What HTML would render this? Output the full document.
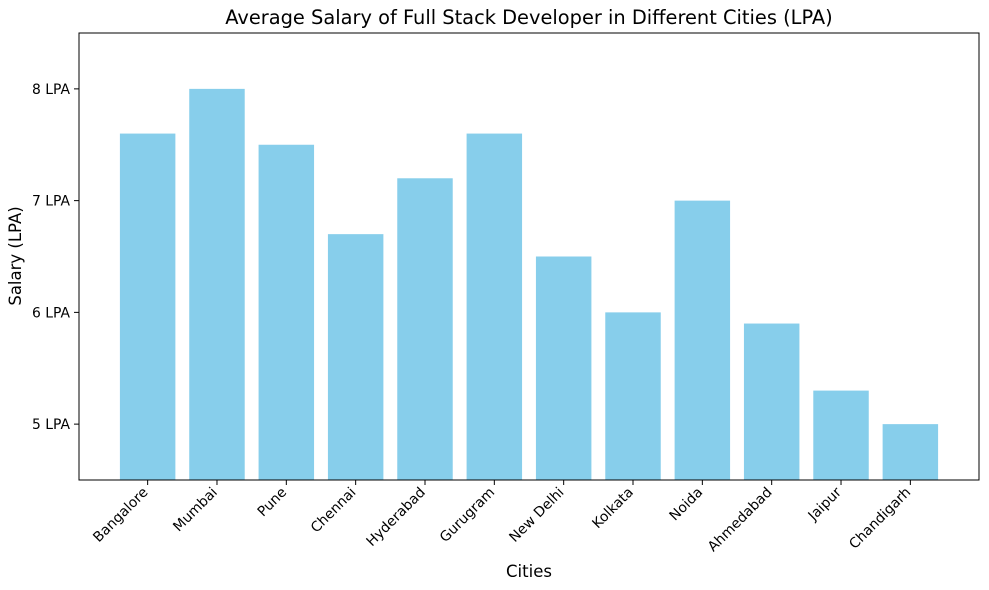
<!DOCTYPE html>
<html><head><meta charset="utf-8"><style>
body{margin:0;background:#fff;}
svg{display:block;font-family:"DejaVu Sans","Liberation Sans",sans-serif;}
</style></head><body>
<svg id="chart" width="989" height="590">
<text x="529" y="24" text-anchor="middle" font-size="19.4" fill="#000">Average Salary of Full Stack Developer in Different Cities (LPA)</text>
<text x="529" y="577" text-anchor="middle" font-size="16.5">Cities</text>
<text transform="translate(21,256) rotate(-90)" text-anchor="middle" font-size="16.5">Salary (LPA)</text>
<g id="bars"></g><g id="yticks"></g><g id="xticks"></g>
<rect x="79" y="33" width="900" height="447" fill="none" stroke="#000" stroke-width="1"/>
</svg>
<script>
const categories=["Bangalore","Mumbai","Pune","Chennai","Hyderabad","Gurugram","New Delhi","Kolkata","Noida","Ahmedabad","Jaipur","Chandigarh"];
const salaries=[7.6,8.0,7.5,6.7,7.2,7.6,6.5,6.0,7.0,5.9,5.3,5.0];
const yTicks=[5,6,7,8];
const yTickLabels=["5 LPA","6 LPA","7 LPA","8 LPA"];
const L=79,R=979,T=33,B=480,ymin=4.5,ymax=8.5;
const n=categories.length,xmin=-0.4-0.59,xmax=n-1+0.4+0.59;
const xs=v=>L+(v-xmin)/(xmax-xmin)*(R-L);
const ys=v=>B-(v-ymin)/(ymax-ymin)*(B-T);
const NS="http://www.w3.org/2000/svg";
const mk=(t,a,p)=>{const e=document.createElementNS(NS,t);for(const k in a)e.setAttribute(k,a[k]);p.appendChild(e);return e;};
const bw=xs(0.8)-xs(0);
categories.forEach((c,i)=>{
  const top=Math.max(ys(salaries[i]),T);
  const r=mk('rect',{x:xs(i)-bw/2,y:top,width:bw,height:B-top,fill:'#87ceeb'},document.getElementById('bars'));
  
  
  const g=document.getElementById('xticks');
  const tl=mk('line',{x1:xs(i),x2:xs(i),y1:B,y2:B+5,stroke:'#000'},g);
  
  
  const t=mk('text',{transform:`translate(${xs(i)+1},${B+13}) rotate(-45)`,'text-anchor':'end','font-size':'13.9'},g);
  t.textContent=c;
  
  
});
yTicks.forEach((v,i)=>{
  const g=document.getElementById('yticks');
  const tl=mk('line',{x1:L-5,x2:L,y1:ys(v),y2:ys(v),stroke:'#000'},g);
  
  
  const t=mk('text',{x:L-9,y:ys(v)+5,'text-anchor':'end','font-size':'13.9'},g);
  t.textContent=yTickLabels[i];
  
  
});
</script>
</body></html>
